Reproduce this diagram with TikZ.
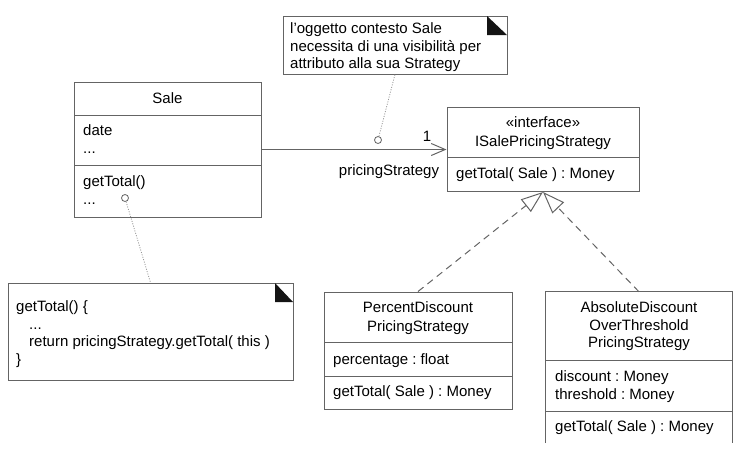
\documentclass[tikz,border=0pt]{standalone}
\usepackage{fontspec}
\setmainfont{Liberation Sans}
\usetikzlibrary{arrows.meta}
\definecolor{bord}{RGB}{100,100,100}
\definecolor{dotc}{RGB}{150,150,150}
\definecolor{cornerc}{RGB}{20,20,20}
\begin{document}
\begin{tikzpicture}[x=1pt,y=-1pt,
  every node/.style={font=\fontsize{15}{18}\selectfont\frenchspacing, inner sep=0pt},
  txt/.style={text height=10.7pt, text depth=3.2pt, yshift=-1pt},
  lt/.style={txt, anchor=west},
  classbox/.style={draw=bord, line width=1pt, rectangle, yshift=0pt},
  notebox/.style={draw=bord, line width=0.8pt, rectangle},
  divider/.style={draw=bord, line width=1pt},
  assoc/.style={draw=bord, line width=1pt, -{Straight Barb[length=14pt, width=12pt, line width=1pt]}},
  realize/.style={draw=bord, line width=1pt, dash pattern=on 7pt off 5pt,
    -{Triangle[open, length=22pt, width=16pt, fill=white, line width=1pt]}},
  notelink/.style={draw=dotc, line width=0.8pt, dash pattern=on 1pt off 1.5pt},
  anchorcirc/.style={circle, draw=bord, line width=0.8pt, fill=white, minimum size=7pt, inner sep=0pt}
]
\useasboundingbox (0,0) rectangle (741,456);

% ---------- Sale ----------
\node[classbox, minimum width=187pt, minimum height=135pt] (sale) at (167.5,149.5) {};
\draw[divider] (74,115) -- (261,115);
\draw[divider] (74,165) -- (261,165);
\node[txt] (saletitle) at (167.5,99) {Sale};
\node[lt] (saledate) at (83,131) {date};
\node[lt] (saledots1) at (83,148.5) {...};
\node[lt] (saleop) at (83,182) {getTotal()};
\node[lt] (saledots2) at (83,199.5) {...};

% ---------- Interface ----------
\node[classbox, minimum width=192pt, minimum height=84pt] (iface) at (543,149.5) {};
\draw[divider] (447,157) -- (639,157);
\node[txt] (ifst) at (543,123) {«interface»};
\node[txt] (ifname) at (543,142) {ISalePricingStrategy};
\node[lt] (ifop) at (456,174) {getTotal( Sale ) : Money};

% ---------- PercentDiscount ----------
\node[classbox, minimum width=188pt, minimum height=117pt] (perc) at (418,350.5) {};
\draw[divider] (324,342) -- (512,342);
\draw[divider] (324,376) -- (512,376);
\node[txt] (percn1) at (418,308) {PercentDiscount};
\node[txt] (percn2) at (418,327) {PricingStrategy};
\node[lt] (percatt) at (333,360) {percentage : float};
\node[lt] (percop) at (333,392) {getTotal( Sale ) : Money};

% ---------- AbsoluteDiscount ----------
\node[minimum width=186pt, minimum height=151pt] (abs) at (639,367.5) {};
\draw[divider] (abs.south west) -- (abs.north west) -- (abs.north east) -- (abs.south east);
\draw[divider] (546,360) -- (732,360);
\draw[divider] (546,411) -- (732,411);
\node[txt] (absn1) at (639,308) {AbsoluteDiscount};
\node[txt] (absn2) at (639,325.5) {OverThreshold};
\node[txt] (absn3) at (639,343) {PricingStrategy};
\node[lt] (absatt1) at (555,377) {discount : Money};
\node[lt] (absatt2) at (555,395) {threshold : Money};
\node[lt] (absop) at (555,427) {getTotal( Sale ) : Money};

% ---------- Association ----------
\draw[assoc] (sale.east) -- (iface.west);
\node[txt] (mult) at (427,137) {1};
\node[txt] (role) at (389,171) {pricingStrategy};

% ---------- Realizations ----------
\draw[realize] (perc.north) -- (iface.south);
\draw[realize] (abs.north) -- (iface.south);

% ---------- Note 1 ----------
\node[notebox, minimum width=224pt, minimum height=58pt] (note1) at (395,45) {};
\fill[cornerc] (487,16) -- (507,35) -- (487,35) -- cycle;
\node[lt] (n1l1) at (290,29) {l’oggetto contesto Sale};
\node[lt] (n1l2) at (290,46.5) {necessita di una visibilità per};
\node[lt] (n1l3) at (290,64) {attributo alla sua Strategy};
\node[anchorcirc] (c1) at (378,140) {};
\draw[notelink] (c1) -- (note1.south);

% ---------- Note 2 ----------
\node[notebox, minimum width=285pt, minimum height=97pt] (note2) at (150.5,331.5) {};
\fill[cornerc] (275,283) -- (293,302) -- (275,302) -- cycle;
\node[lt] (n2l1) at (16,307) {getTotal() \{};
\node[lt] (n2l2) at (29,324.5) {...};
\node[lt] (n2l3) at (29,342) {return pricingStrategy.getTotal( this )};
\node[lt] (n2l4) at (16,359.5) {\}};
\node[anchorcirc] (c2) at (125,198) {};
\draw[notelink] (c2) -- (note2.north);
\end{tikzpicture}
\end{document}
